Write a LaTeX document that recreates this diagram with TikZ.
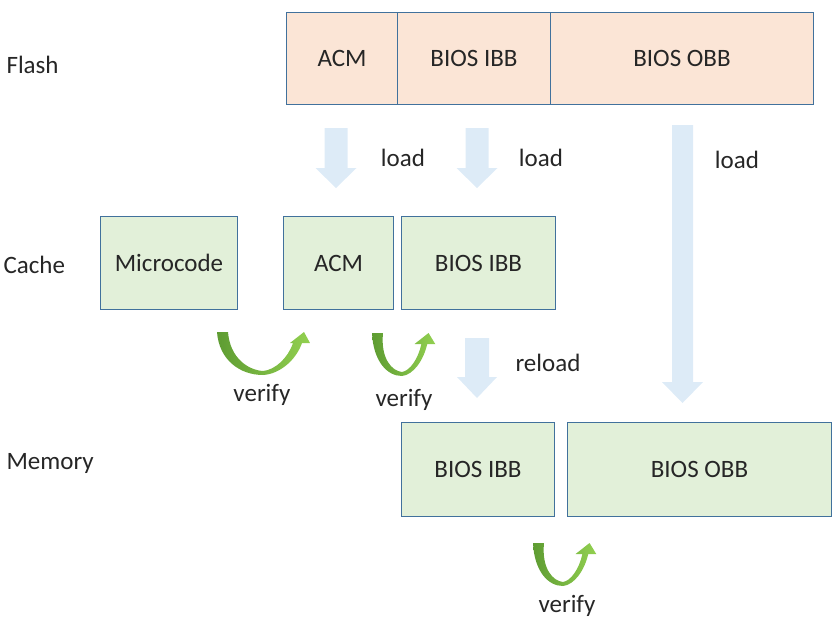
\documentclass[tikz,border=0pt]{standalone}
\usepackage{fontspec}
\setmainfont{Carlito}
\usepackage{tikz}

\definecolor{BoxLine}{HTML}{41719C}
\definecolor{FlashFill}{HTML}{FBE5D6}
\definecolor{CacheFill}{HTML}{E2F0D9}
\definecolor{LoadBlue}{HTML}{DDEBF7}
\definecolor{VerifyDark}{HTML}{5E9C32}
\definecolor{VerifyLight}{HTML}{92D050}
\definecolor{TextGray}{HTML}{262626}

% block arrow: centre x, top, tip, shaft half width, head half width, head length
\newcommand{\loadarrow}[6]{%
	\fill[LoadBlue] (#1-#4,#2) -- (#1+#4,#2) -- (#1+#4,#3-#6) -- (#1+#5,#3-#6)
		-- (#1,#3) -- (#1-#5,#3-#6) -- (#1-#4,#3-#6) -- cycle;}

% curved verify arrow: left top corner, spread
\newcommand{\verifyarrow}[3]{%
	\begin{scope}[shift={(#1,#2)}]
	\shade[left color=VerifyDark, right color=VerifyLight] (0,0)
		.. controls ({2*#3},28) and ({23*#3},43) .. ({46*#3},43)
		.. controls ({63*#3},42) and ({79*#3},28) .. ({85*#3},11)
		-- ({85*#3+8},11) -- ({87*#3},0) -- ({87*#3-14},11) -- ({76*#3},11)
		.. controls ({71*#3},26) and ({58*#3},38) .. ({46*#3},39)
		.. controls ({31*#3},38) and ({13*#3},26) .. (11,0) -- cycle;
	\end{scope}}

\begin{document}
\begin{tikzpicture}[x=1pt, y=-1pt,
	every node/.style={font=\fontsize{25}{30}\selectfont, text=TextGray},
	membox/.style={draw=BoxLine, line width=1pt, inner sep=0pt, anchor=north west},
	flashbox/.style={membox, fill=FlashFill},
	cachebox/.style={membox, fill=CacheFill}]
	\useasboundingbox (0,0) rectangle (840,624);

	% row labels
	\node[anchor=west] (flash) at (3,65) {Flash};
	\node[anchor=west] (cache) at (0,265) {Cache};
	\node[anchor=west] (memory) at (3,463) {Memory};

	% flash
	\node[flashbox, minimum width=111pt, minimum height=92pt] (facm) at (286,12) {ACM};
	\node[flashbox, minimum width=153pt, minimum height=92pt] (fibb) at (397,12) {BIOS IBB};
	\node[flashbox, minimum width=263pt, minimum height=92pt] (fobb) at (550,12) {BIOS OBB};

	% cache
	\node[cachebox, minimum width=137pt, minimum height=93pt] (cmicro) at (100,216) {Microcode};
	\node[cachebox, minimum width=110pt, minimum height=93pt] (cacm) at (283,216) {ACM};
	\node[cachebox, minimum width=154pt, minimum height=93pt] (cibb) at (401,216) {BIOS IBB};

	% memory
	\node[cachebox, minimum width=153pt, minimum height=94pt] (mibb) at (401,422) {BIOS IBB};
	\node[cachebox, minimum width=264pt, minimum height=94pt] (mobb) at (567,422) {BIOS OBB};

	% load arrows
	\loadarrow{336}{128}{188}{11.5}{20.5}{20}
	\loadarrow{477}{128}{188}{11.5}{20.5}{20}
	\loadarrow{682.5}{125}{403}{10.5}{20.5}{21}
	\loadarrow{477}{338}{398}{12}{20}{21}
	\node (load1) at (403,158) {load};
	\node (load2) at (541,158) {load};
	\node (load3) at (737,160) {load};
	\node (reload) at (548,363) {reload};

	% verify arrows
	\verifyarrow{217}{332}{1}
	\verifyarrow{372}{333}{0.65}
	\verifyarrow{533}{543}{0.65}
	\node (verify1) at (262,395) {verify};
	\node (verify2) at (404,400) {verify};
	\node (verify3) at (567,606) {verify};
\end{tikzpicture}
\end{document}
